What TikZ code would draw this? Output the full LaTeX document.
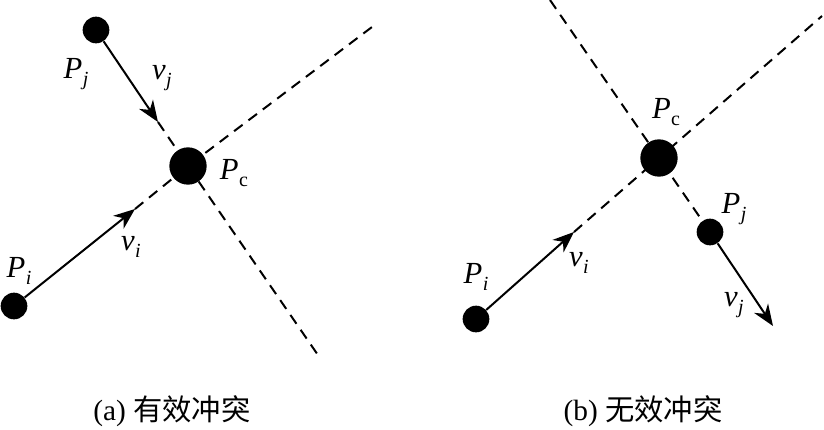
\documentclass[tikz,border=0pt]{standalone}
\usepackage{fontspec}
\setmainfont{Liberation Serif}
\newfontfamily\cjk{Noto Sans CJK SC}
\usetikzlibrary{arrows.meta,calc}
\newcommand{\sym}[2]{\textit{#1}\kern0.3pt\raisebox{-0.22em}{\fontsize{15}{15}\selectfont #2}}
\begin{document}
\begin{tikzpicture}[x=0.75pt,y=-0.75pt,
  dot/.style={circle,fill=black,inner sep=0pt,minimum size=20pt},
  bigdot/.style={circle,fill=black,inner sep=0pt,minimum size=28pt},
  vec/.style={line width=1.5pt,-{Stealth[length=16pt,width=12.5pt,inset=5pt]}},
  dashline/.style={line width=1.5pt,dash pattern=on 8pt off 5.5pt},
  lab/.style={inner sep=0pt,font=\fontsize{23}{23}\selectfont},
  captext/.style={inner sep=0pt,font=\fontsize{22}{22}\selectfont}]
\useasboundingbox (0,0) rectangle (824,429);
% ---------- (a) ----------
\coordinate (apjpos) at (96,30);
\coordinate (apcpos) at (188,166);
\coordinate (apipos) at (14,306);
\coordinate (ajtip) at (158,122);
\coordinate (aitip) at (135,209);
\coordinate (ajend) at (320,358);
\coordinate (aiend) at (372,27);
\draw[dashline] (ajtip) -- (apcpos) -- (ajend);
\draw[dashline] (aitip) -- (apcpos) -- (aiend);
\node[dot] (apj) at (apjpos) {};
\node[bigdot] (apc) at (apcpos) {};
\node[dot] (api) at (apipos) {};
\draw[vec] (apj) -- (ajtip);
\draw[vec] (api) -- (aitip);
\node[lab] (lapj) at (76,74) {\sym{P}{\textit{j}}};
\node[lab] (lavj) at (162,78) {\sym{v}{\textit{j}}};
\node[lab] (lapc) at (234,173) {\sym{P}{c}};
\node[lab] (lavi) at (131,247) {\sym{v}{\textit{i}}};
\node[lab] (lapi) at (19,271) {\sym{P}{\textit{i}}};
\node[captext] (capa) at (172,411) {(a) {\cjk 有效冲突}};
% ---------- (b) ----------
\coordinate (bpcpos) at (659,158);
\coordinate (bpipos) at (476,319);
\coordinate (bpjpos) at (710,232);
\coordinate (bitip) at (574,232);
\coordinate (biend) at (822,16);
\coordinate (bjend) at (550,0);
\coordinate (bjtip) at (773,326);
\draw[dashline] (bitip) -- (bpcpos) -- (biend);
\draw[dashline] (bjend) -- (bpcpos) -- (bpjpos);
\node[bigdot] (bpc) at (bpcpos) {};
\node[dot] (bpi) at (bpipos) {};
\node[dot] (bpj) at (bpjpos) {};
\draw[vec] (bpi) -- (bitip);
\draw[vec] (bpj) -- (bjtip);
\node[lab] (lbpc) at (666,112) {\sym{P}{c}};
\node[lab] (lbpj) at (734,209) {\sym{P}{\textit{j}}};
\node[lab] (lbpi) at (476,277) {\sym{P}{\textit{i}}};
\node[lab] (lbvi) at (579,263) {\sym{v}{\textit{i}}};
\node[lab] (lbvj) at (734,305) {\sym{v}{\textit{j}}};
\node[captext] (capb) at (643,411) {(b) {\cjk 无效冲突}};
\end{tikzpicture}
\end{document}
